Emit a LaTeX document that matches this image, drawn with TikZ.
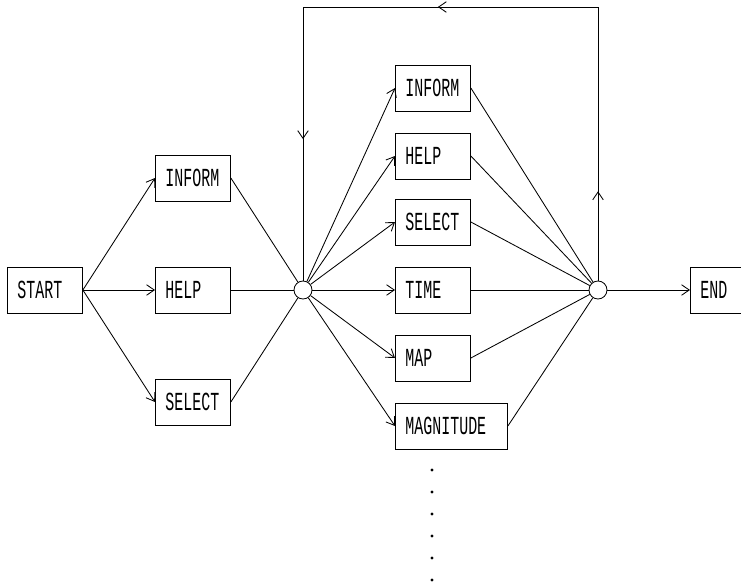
\documentclass[tikz,border=0pt]{standalone}
\usepackage{fontspec}
\newfontfamily\stagefont[FakeStretch=0.575]{Liberation Mono}
\usetikzlibrary{arrows.meta,decorations.markings}

\begin{document}
\begin{tikzpicture}[x=0.025cm,y=-0.025cm,line width=0.6pt,
    >={Straight Barb[length=5.5pt,width=7.5pt]}]

        \useasboundingbox (0,0) rectangle (741,583);
        \clip (0,0) rectangle (741,583);

        \begin{scope}[every node/.style={draw, anchor=west, text width=1.375cm,
            inner xsep=0.25cm, minimum height=1.15cm,
            font=\stagefont\fontsize{18.5}{18.5}\selectfont}]
          \node (start)     at (7,290)   {START};
          \node (inform1)   at (155,178) {INFORM};
          \node (help1)     at (155,290) {HELP};
          \node (select1)   at (155,402) {SELECT};
          \node (inform2)   at (395,88)  {INFORM};
          \node (help2)     at (395,156) {HELP};
          \node (select2)   at (395,222) {SELECT};
          \node (time)      at (395,290) {TIME};
          \node (map)       at (395,358) {MAP};
          \node[text width=2.3cm] (magnitude) at (395,426) {MAGNITUDE};
          \node (end)       at (690,290) {END};
        \end{scope}

        \begin{scope}[every node/.style={circle, draw, minimum size=0.45cm, inner sep=0pt}]
          \node (j1) at (303,290) {};
          \node (j2) at (598,290) {};
        \end{scope}

        \begin{scope}[every edge/.style={draw,->}]
          \path (start.east) edge (inform1.west);
          \path (start.east) edge (help1.west);
          \path (start.east) edge (select1.west);
          \path (j1) edge (inform2.west);
          \path (j1) edge (help2.west);
          \path (j1) edge (select2.west);
          \path (j1) edge (time.west);
          \path (j1) edge (map.west);
          \path (j1) edge (magnitude.west);
          \path (j2) edge (end.west);
        \end{scope}

        \begin{scope}[every edge/.style={draw}]
          \path (inform1.east) edge (j1);
          \path (help1.east)   edge (j1);
          \path (select1.east) edge (j1);
          \path (inform2.east) edge (j2);
          \path (help2.east)   edge (j2);
          \path (select2.east) edge (j2);
          \path (time.east)    edge (j2);
          \path (map.east)     edge (j2);
          \path (magnitude.east) edge (j2);
        \end{scope}

        % loop back over the top
        \coordinate (top) at (0,7);
        \coordinate (loopr) at (j2.north |- top);
        \coordinate (loopl) at (j1.north |- top);
        \draw[postaction={decorate}, decoration={markings,
            mark=at position 0.106 with {\arrow{>}},
            mark=at position 0.515 with {\arrow{>}},
            mark=at position 0.832 with {\arrow{>}}}]
          (j2.north) -- (loopr) -- (loopl) -- (j1.north);

        \foreach \y in {470,492,...,580}
          \fill (432,\y) circle (1.2pt);

      \end{tikzpicture}
\end{document}
